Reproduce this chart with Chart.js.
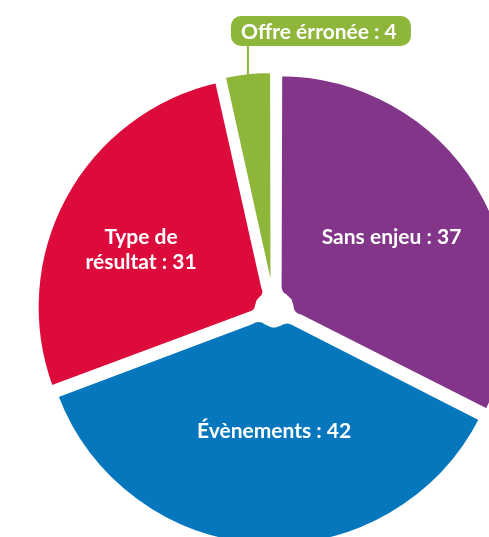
<!DOCTYPE html>
<html>
<head>
<meta charset="utf-8">
<script src="https://cdn.jsdelivr.net/npm/chart.js@4.4.1/dist/chart.umd.min.js"></script>
<style>
  html, body { margin: 0; padding: 0; background: #ffffff; overflow: hidden; width: 489px; height: 537px; }
  #wrap { position: absolute; left: 0; top: 0; width: 548px; height: 620px; }
</style>
</head>
<body>
<div id="wrap"><canvas id="c" width="548" height="620"></canvas></div>
<script>
// ---- data ----
const categories = ['Sans enjeu', 'Évènements', 'Type de résultat', 'Offre érronée'];
const values = [37, 42, 31, 4];

// ---- style ----
const colors = ['#823589', '#0677bd', '#dd0a3c', '#8db63a'];
const sliceOffsets = [24, 12, 24, 16];
const FONT = 'bold 21px Lato, "Open Sans", sans-serif';
const labelStyle = [
  { r: 0.587, dx: 1, dy: -2, maxWidth: 400 },
  { r: 0.539, dx: 7, dy: -5, maxWidth: 400 },
  { r: 0.6, dx: -10, dy: 6, maxWidth: 125 },
  { callout: true, boxTop: 16, boxH: 30, boxLeftPad: 17, boxW: 180 }
];

function wrapText(ctx, text, maxWidth) {
  const words = text.split(' ');
  const lines = [];
  let cur = '';
  words.forEach(w => {
    const test = cur ? cur + ' ' + w : w;
    if (ctx.measureText(test).width > maxWidth && cur) {
      lines.push(cur);
      cur = w;
    } else {
      cur = test;
    }
  });
  if (cur) lines.push(cur);
  return lines;
}

function roundRect(ctx, x, y, w, h, r) {
  ctx.beginPath();
  ctx.moveTo(x + r, y);
  ctx.lineTo(x + w - r, y);
  ctx.arcTo(x + w, y, x + w, y + r, r);
  ctx.lineTo(x + w, y + h - r);
  ctx.arcTo(x + w, y + h, x + w - r, y + h, r);
  ctx.lineTo(x + r, y + h);
  ctx.arcTo(x, y + h, x, y + h - r, r);
  ctx.lineTo(x, y + r);
  ctx.arcTo(x, y, x + r, y, r);
  ctx.closePath();
}

const labelPlugin = {
  id: 'sliceLabels',
  afterDatasetsDraw(chart) {
    const ctx = chart.ctx;
    const meta = chart.getDatasetMeta(0);
    meta.data.forEach((arc, i) => {
      const p = arc.getProps(['x', 'y', 'startAngle', 'endAngle', 'outerRadius'], true);
      const mid = (p.startAngle + p.endAngle) / 2;
      const cfg = labelStyle[i];
      const text = categories[i] + ' : ' + values[i];
      ctx.save();
      ctx.font = FONT;
      ctx.textAlign = 'center';
      ctx.textBaseline = 'alphabetic';
      if (cfg.callout) {
        const shift = sliceOffsets[i] / 4;
        const ax = p.x + Math.cos(mid) * (p.outerRadius + shift);
        const ay = p.y + Math.sin(mid) * (p.outerRadius + shift);
        const boxBottom = cfg.boxTop + cfg.boxH;
        ctx.strokeStyle = colors[i];
        ctx.lineWidth = 2;
        ctx.beginPath();
        ctx.moveTo(ax, ay + 1);
        ctx.lineTo(ax, boxBottom - 2);
        ctx.stroke();
        const bx = ax - cfg.boxLeftPad;
        ctx.fillStyle = colors[i];
        roundRect(ctx, bx, cfg.boxTop, cfg.boxW, cfg.boxH, 10);
        ctx.fill();
        ctx.fillStyle = '#ffffff';
        ctx.fillText(text, bx + cfg.boxW / 2 - 2, cfg.boxTop + cfg.boxH / 2 + 7.5);
      } else {
        const lines = wrapText(ctx, text, cfg.maxWidth);
        const cx = p.x + Math.cos(mid) * p.outerRadius * cfg.r + cfg.dx;
        const cy = p.y + Math.sin(mid) * p.outerRadius * cfg.r + cfg.dy;
        const lh = 25;
        const first = cy - (lines.length - 1) * lh / 2 + 7.5;
        ctx.fillStyle = '#ffffff';
        lines.forEach((l, k) => ctx.fillText(l, cx, first + k * lh));
      }
      ctx.restore();
    });
  }
};

new Chart(document.getElementById('c'), {
  type: 'doughnut',
  data: {
    labels: categories,
    datasets: [{
      data: values,
      backgroundColor: colors,
      borderColor: '#ffffff',
      borderWidth: 6,
      borderJoinStyle: 'round',
      borderRadius: { innerStart: 12, innerEnd: 12, outerStart: 0, outerEnd: 0 },
      offset: sliceOffsets,
      hoverOffset: 0
    }]
  },
  options: {
    responsive: false,
    animation: false,
    events: [],
    cutout: 12,
    radius: 233,
    layout: { padding: 0 },
    plugins: {
      legend: { display: false },
      tooltip: { enabled: false },
      title: { display: false }
    }
  },
  plugins: [labelPlugin]
});
</script>
</body>
</html>
